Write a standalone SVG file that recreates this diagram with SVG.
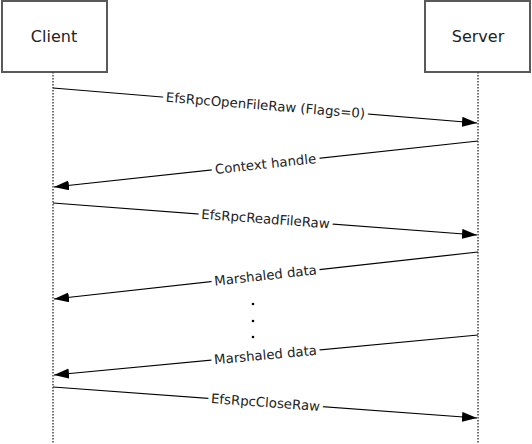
<svg xmlns="http://www.w3.org/2000/svg" width="532" height="444" viewBox="0 0 532 444">
<style>
.box{fill:#fff;stroke:#5a5a5a;stroke-width:2}
.life{stroke:#444;stroke-width:1.5;stroke-dasharray:1.5,1.5;fill:none}
.msg{stroke:#000;stroke-width:1.2;fill:none;marker-end:url(#ah)}
.nl{font-family:"DejaVu Sans",Verdana,sans-serif;font-size:16px;fill:#222;text-anchor:middle}
.ml{font-family:"DejaVu Sans",Verdana,sans-serif;font-size:13.3px;fill:#222;text-anchor:middle;stroke:#fff;stroke-width:8;paint-order:stroke;stroke-linejoin:round}
.dot{fill:#000}
</style>
<defs>
<marker id="ah" markerUnits="userSpaceOnUse" markerWidth="16" markerHeight="11" refX="15" refY="5" orient="auto">
<path d="M0,0 L15,5 L0,10 z" fill="#000"/>
</marker>
</defs>
<g id="client">
<rect class="box" x="2" y="1" width="105" height="71"/>
<text class="nl" x="54" y="42">Client</text>
<line class="life" x1="53" y1="72" x2="53" y2="444"/>
</g>
<g id="server">
<rect class="box" x="425" y="1" width="105" height="71"/>
<text class="nl" x="478" y="42">Server</text>
<line class="life" x1="478" y1="72" x2="478" y2="444"/>
</g>
<g id="connectors">
<line class="msg" x1="53" y1="88" x2="477" y2="123"/>
<line class="msg" x1="478" y1="141" x2="54" y2="187"/>
<line class="msg" x1="53" y1="203" x2="477" y2="235"/>
<line class="msg" x1="478" y1="252" x2="54" y2="299"/>
<line class="msg" x1="478" y1="335" x2="54" y2="375"/>
<line class="msg" x1="53" y1="387" x2="477" y2="418"/>
</g>
<g id="labels">
<text class="ml" transform="translate(265.5,105.5) rotate(4.71)" y="4.5">EfsRpcOpenFileRaw (Flags=0)</text>
<text class="ml" transform="translate(265.5,164) rotate(-6.18)" y="4.5">Context handle</text>
<text class="ml" transform="translate(265.5,219) rotate(4.31)" y="4.5">EfsRpcReadFileRaw</text>
<text class="ml" transform="translate(265.5,275.5) rotate(-6.31)" y="4.5">Marshaled data</text>
<text class="ml" transform="translate(265.5,355) rotate(-5.38)" y="4.5">Marshaled data</text>
<text class="ml" transform="translate(265.5,402.5) rotate(4.17)" y="4.5">EfsRpcCloseRaw</text>
</g>
<g id="ellipsis">
<circle class="dot" cx="253" cy="304" r="1.3"/>
<circle class="dot" cx="253" cy="321" r="1.3"/>
<circle class="dot" cx="253" cy="337" r="1.3"/>
</g>
</svg>
